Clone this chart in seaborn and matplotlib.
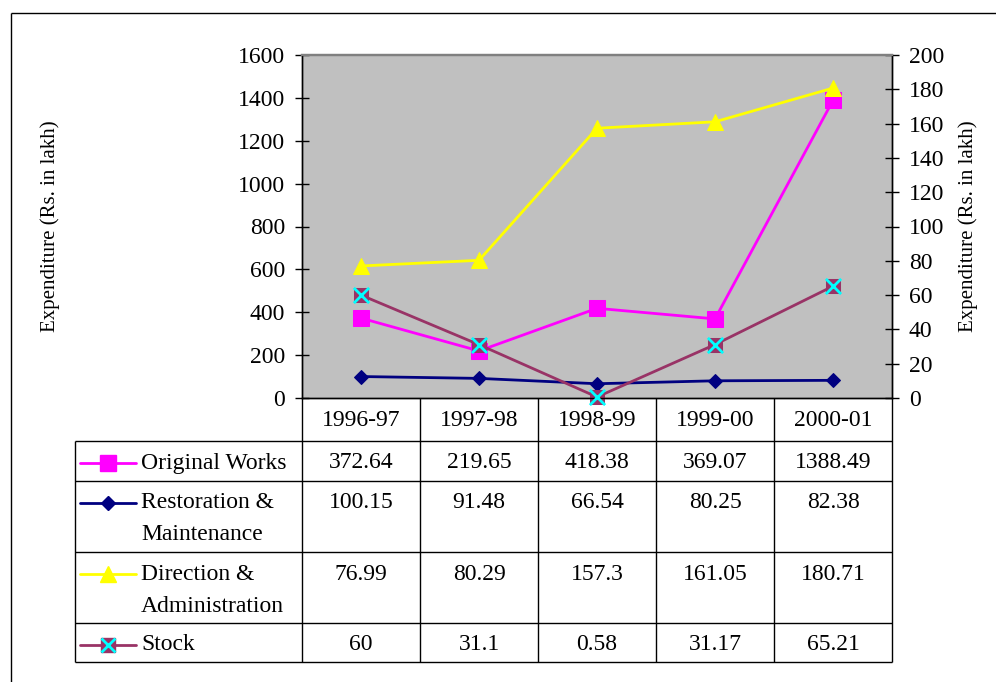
import matplotlib
matplotlib.use("Agg")
import matplotlib.pyplot as plt
from matplotlib.lines import Line2D
import seaborn as sns
import pandas as pd

# ---- data -------------------------------------------------------------
years = ["1996-97", "1997-98", "1998-99", "1999-00", "2000-01"]
original_works = [372.64, 219.65, 418.38, 369.07, 1388.49]
restoration = [100.15, 91.48, 66.54, 80.25, 82.38]
direction = [76.99, 80.29, 157.3, 161.05, 180.71]
stock = [60, 31.1, 0.58, 31.17, 65.21]

left_ticks = list(range(0, 1601, 200))
right_ticks = list(range(0, 201, 20))
axis_title = "Expenditure (Rs. in lakh)"

# ---- style ------------------------------------------------------------
sns.set_theme(style="white")
plt.rcParams["font.family"] = ["Liberation Serif", "DejaVu Serif"]
FS = 17
LW = 2.0

W, H = 996, 682
fig = plt.figure(figsize=(W / 100, H / 100), dpi=100)


def fx(px):
    return px / W


def fy(py):
    return 1 - py / H


# plot area in pixels
PL, PR, PT, PB = 302, 892, 55, 398
ax = fig.add_axes([fx(PL), fy(PB), fx(PR - PL), (PB - PT) / H])
ax.set_facecolor("#C0C0C0")
ax2 = ax.twinx()

df = pd.DataFrame({
    "pos": range(len(years)),
    "Original Works": original_works,
    "Restoration": restoration,
    "Direction": direction,
    "Stock": stock,
})

MAG, NAVY, YEL, MAROON, CYAN = "#FF00FF", "#000080", "#FFFF00", "#993366", "#00FFFF"

line_kw = dict(linewidth=LW, sort=False, clip_on=False)
sns.lineplot(data=df, x="pos", y="Restoration", ax=ax, color=NAVY, marker="D",
             markersize=7, markeredgecolor=NAVY, markerfacecolor=NAVY, **line_kw)
sns.lineplot(data=df, x="pos", y="Original Works", ax=ax, color=MAG, marker="s",
             markersize=11, markeredgecolor=MAG, markerfacecolor=MAG, **line_kw)
sns.lineplot(data=df, x="pos", y="Stock", ax=ax2, color=MAROON, marker="s",
             markersize=10, markeredgecolor=MAROON, markerfacecolor=MAROON, **line_kw)
sns.scatterplot(data=df, x="pos", y="Stock", ax=ax2, marker="x", s=120,
                color=CYAN, linewidth=2, zorder=5, clip_on=False)
sns.lineplot(data=df, x="pos", y="Direction", ax=ax2, color=YEL, marker="^",
             markersize=12, markeredgecolor=YEL, markerfacecolor=YEL, **line_kw)

for a, ticks in ((ax, left_ticks), (ax2, right_ticks)):
    a.set_xlim(-0.5, len(years) - 0.5)
    a.set_ylim(ticks[0], ticks[-1])
    a.set_yticks(ticks)
    a.set_xticks([])
    a.set_xlabel("")
    a.set_ylabel("")
    for s in a.spines.values():
        s.set_visible(True)
        s.set_linewidth(1.0)
        s.set_color("black")
    a.spines["top"].set_color("#808080")
    a.spines["top"].set_linewidth(1.6)

ax.tick_params(axis="y", which="major", direction="inout", length=10, width=1.0,
               color="black", pad=7, labelsize=FS, left=True, right=False)
ax2.tick_params(axis="y", which="major", direction="inout", length=10, width=1.0,
                color="black", pad=7, labelsize=FS, right=True, left=False)
for lbl in ax.get_yticklabels() + ax2.get_yticklabels():
    lbl.set_color("black")

fig.text(fx(50), fy((PT + PB) / 2), axis_title, rotation=90, ha="center",
         va="center", fontsize=15, color="black")
fig.text(fx(968), fy((PT + PB) / 2), axis_title, rotation=90, ha="center",
         va="center", fontsize=15, color="black")

# ---- overlay for the data table and outer frame ----------------------
ov = fig.add_axes([0, 0, 1, 1], zorder=3)
ov.set_xlim(0, W)
ov.set_ylim(H, 0)
ov.axis("off")
ov.patch.set_alpha(0)

k = dict(color="black", linewidth=1.0, solid_capstyle="butt")
# outer frame
ov.plot([11, 11], [13, H + 5], **k)
ov.plot([11, W + 5], [13, 13], **k)

col_edges = [PL + i * (PR - PL) / len(years) for i in range(len(years) + 1)]
col_centers = [(col_edges[i] + col_edges[i + 1]) / 2 for i in range(len(years))]
TL = 75
row_lines = [441, 481, 552, 623, 662]

for x in col_edges:
    ov.plot([x, x], [PB, row_lines[-1]], **k)
ov.plot([TL, TL], [row_lines[0], row_lines[-1]], **k)
for y in row_lines:
    ov.plot([TL, PR], [y, y], **k)

for x, yr in zip(col_centers, years):
    ov.text(x, 420, yr, ha="center", va="center", fontsize=FS, color="black")

rows = [
    (["Original Works"], [463], original_works, MAG, "s", 11),
    (["Restoration &", "Maintenance"], [503, 535], restoration, NAVY, "D", 7),
    (["Direction &", "Administration"], [574, 606], direction, YEL, "^", 12),
    (["Stock"], [645], stock, MAROON, "s", 10),
]
for labels, ys, vals, col, mk, ms in rows:
    y0 = ys[0]
    ov.add_line(Line2D([80, 136], [y0, y0], color=col, linewidth=LW))
    ov.add_line(Line2D([108], [y0], marker=mk, markersize=ms, color=col,
                       markeredgecolor=col, markerfacecolor=col, linestyle="none"))
    if labels[0] == "Stock":
        ov.add_line(Line2D([108], [y0], marker="x", markersize=10, color=CYAN,
                           markeredgewidth=2, linestyle="none"))
    for lab, yy in zip(labels, ys):
        ov.text(141, yy, lab, ha="left", va="center", fontsize=FS, color="black")
    for x, v in zip(col_centers, vals):
        ov.text(x, y0, f"{v:g}", ha="center", va="center", fontsize=FS, color="black")

fig.savefig("out.png", dpi=100, facecolor="white")
